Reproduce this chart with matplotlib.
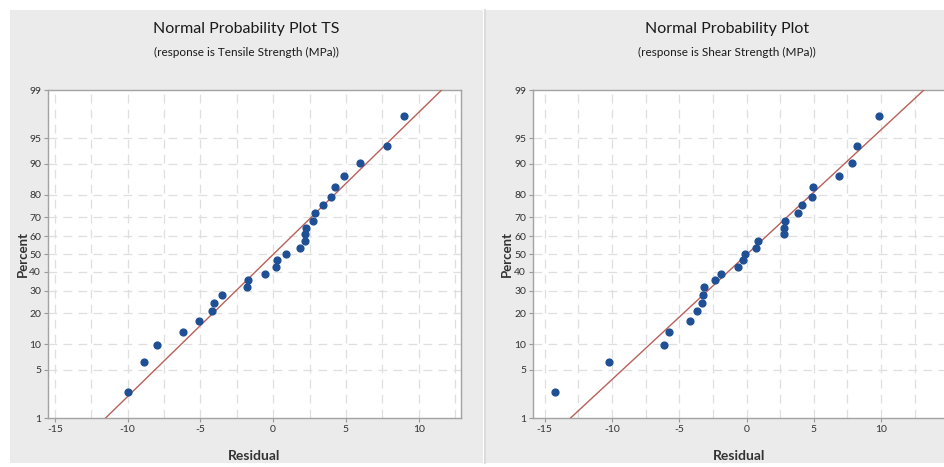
import matplotlib
matplotlib.use("Agg")
import matplotlib.pyplot as plt
from matplotlib.patches import Rectangle
from statistics import NormalDist
import numpy as np

plt.rcParams['font.family'] = ['Lato', 'DejaVu Sans']

# residuals (sorted)
ts_residuals = [-10.0, -8.85, -7.95, -6.19, -5.07, -4.17, -4.03, -3.53, -1.81,
                -1.74, -0.53, 0.18, 0.27, 0.87, 1.86, 2.18, 2.20, 2.24, 2.77,
                2.91, 3.44, 3.99, 4.22, 4.88, 5.98, 7.81, 9.00]
ss_residuals = [-14.23, -10.19, -6.13, -5.73, -4.22, -3.70, -3.33, -3.21, -3.16,
                -2.34, -1.89, -0.65, -0.24, -0.09, 0.71, 0.88, 2.78, 2.80, 2.83,
                3.85, 4.13, 4.83, 4.96, 6.89, 7.86, 8.19, 9.87]

titles = ["Normal Probability Plot TS", "Normal Probability Plot"]
subtitles = ["(response is Tensile Strength (MPa))",
             "(response is Shear Strength (MPa))"]
xlims = [(-15.47, 12.91), (-15.86, 15.34)]

pct_ticks = [1, 5, 10, 20, 30, 40, 50, 60, 70, 80, 90, 95, 99]
x_ticks = [-15, -10, -5, 0, 5, 10]

nd = NormalDist()


def z(p):
    return nd.inv_cdf(p / 100.0)


W, H = 944, 467
fig = plt.figure(figsize=(W / 100, H / 100), dpi=100)
fig.patch.set_facecolor("white")

# gray panel backgrounds
panel_col = "#ebebeb"
fig.add_artist(Rectangle((10 / W, 4 / H), 473 / W, 453 / H, transform=fig.transFigure,
                         facecolor=panel_col, edgecolor="none", zorder=-10))
fig.add_artist(Rectangle((486 / W, 4 / H), 460 / W, 453 / H, transform=fig.transFigure,
                         facecolor=panel_col, edgecolor="none", zorder=-10))
fig.add_artist(plt.Line2D([484.5 / W, 484.5 / W], [4 / H, 457 / H], transform=fig.transFigure,
                          color="#d6d6d6", lw=1.2, zorder=-9))

# right panel runs past the right edge of the picture, as in the screenshot
panels = [
    dict(ax=(48, 413), center=246, ylab_x=23, data=ts_residuals),
    dict(ax=(533, 420), center=727, ylab_x=507, data=ss_residuals),
]

for k, pnl in enumerate(panels):
    x0, w = pnl["ax"]
    ax = fig.add_axes([x0 / W, (H - 418) / H, w / W, 328 / H])
    ax.set_facecolor("white")

    res = np.sort(np.array(pnl["data"]))
    n = len(res)
    pos = [(i - 0.3) / (n + 0.4) * 100 for i in range(1, n + 1)]
    zz = [z(p) for p in pos]

    # fitted line from mean and stdev
    mu, sd = res.mean(), res.std(ddof=1)
    zl = np.array([z(0.5), z(99.5)])
    ax.plot(mu + sd * zl, zl, color="#b9605a", lw=1.0, zorder=3)
    ax.scatter(res, zz, s=24, color="#1f4f94", edgecolors="#1f4f94", zorder=4)

    # grid
    for gx in np.arange(-15, 15.1, 2.5):
        ax.axvline(gx, color="#dfdfdf", lw=0.9, ls=(0, (7, 5)), zorder=1)
    for p in pct_ticks[1:-1]:
        ax.axhline(z(p), color="#dfdfdf", lw=0.9, ls=(0, (7, 5)), zorder=1)

    ax.set_xlim(*xlims[k])
    ax.set_ylim(z(1), z(99))
    ax.set_xticks(x_ticks)
    ax.set_xticklabels([str(t) for t in x_ticks])
    ax.set_yticks([z(p) for p in pct_ticks])
    ax.set_yticklabels([str(p) for p in pct_ticks])
    ax.tick_params(axis="both", length=3, width=0.8, color="#9a9a9a",
                   labelsize=7.5, labelcolor="#333333", pad=2)
    for s in ax.spines.values():
        s.set_color("#a3a3a3")
        s.set_linewidth(1.0)

    cx = pnl["center"] / W
    fig.text(cx, 1 - 29 / H, titles[k], ha="center", va="center",
             fontsize=11.5, color="#1a1a1a")
    fig.text(cx, 1 - 52 / H, subtitles[k], ha="center", va="center",
             fontsize=8.5, color="#1a1a1a")
    fig.text(pnl["ylab_x"] / W, 1 - 254 / H, "Percent", rotation=90, ha="center",
             va="center", fontsize=9.5, fontweight="bold", color="#333333")
    fig.text((x0 + 413 / 2) / W, 1 - 456 / H, "Residual", ha="center", va="center",
             fontsize=10, fontweight="bold", color="#333333")

fig.savefig("out.png", dpi=100)
